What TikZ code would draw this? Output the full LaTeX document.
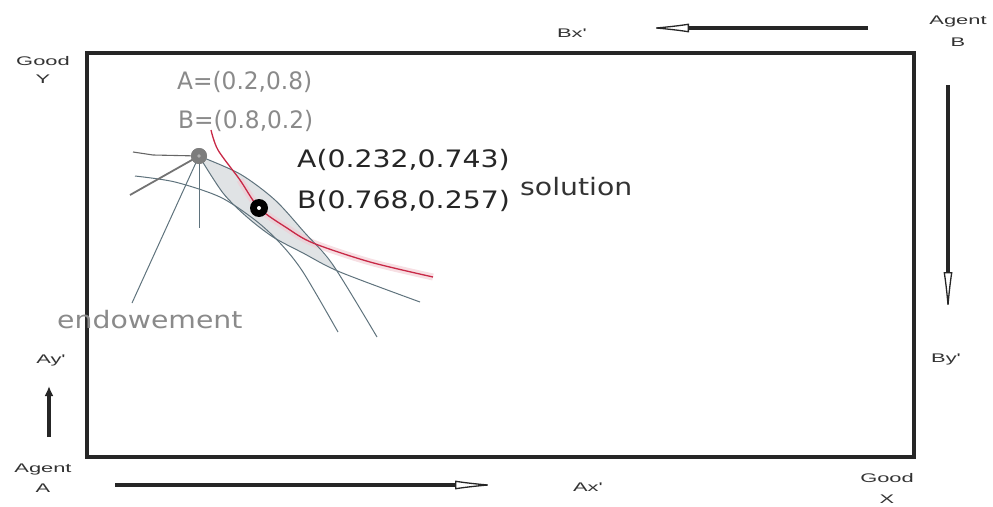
\documentclass[tikz,border=0pt]{standalone}
\usepackage{graphicx}
\usepackage{fontspec}
\setmainfont{DejaVu Sans}
\newfontfamily\lblfont{Liberation Sans}
\usetikzlibrary{arrows.meta}
\definecolor{ln}{RGB}{95,115,125}
\definecolor{redc}{RGB}{200,40,70}
\definecolor{lensc}{RGB}{224,227,229}
\definecolor{txtgray}{RGB}{138,138,138}
\definecolor{endc}{RGB}{125,125,125}
\newcommand\sxs[1]{\scalebox{1.75}[1]{#1}}
\newcommand\sxb[1]{\scalebox{1.18}[1]{#1}}
\newcommand\sxn[1]{\scalebox{0.97}[1]{#1}}
\tikzset{
  small/.style={font=\lblfont\fontsize{12.5}{14.5}\selectfont, text=black!80, inner sep=0pt, align=center},
  big/.style={font=\fontsize{24}{28}\selectfont, inner sep=0pt, anchor=west},
  boxline/.style={line width=4pt, draw=black!85},
  openarr/.style={draw=black!85, -{Latex[open,length=42pt,width=9pt,line width'=1.3pt]}, line width=3.5pt},
  curve/.style={draw=ln, line width=1pt},
}
\begin{document}
\begin{tikzpicture}[x=1pt,y=-1pt]
\useasboundingbox (0,0) rectangle (993,506);
% box
\draw[boxline] (87,53) rectangle (914,457);
% labels
\node[small] (goody) at (43,70) {\sxs{Good}\\[3pt]\sxs{Y}};
\node[small] (agentb) at (958,31) {\sxs{Agent}\\[8pt]\sxs{B}};
\node[small] (agenta) at (43,478) {\sxs{Agent}\\[5.5pt]\sxs{A}};
\node[small] (goodx) at (887,488) {\sxs{Good}\\[6.5pt]\sxs{X}};
\node[small] (bx) at (572,33) {\sxs{Bx'}};
\node[small] (ay) at (51,360) {\sxs{Ay'}};
\node[small] (by) at (946,359) {\sxs{By'}};
\node[small] (ax) at (588,487) {\sxs{Ax'}};
% arrows
\coordinate (t1) at (868,28); \coordinate (t2) at (647,28);
\draw[openarr] (t1) -- (t2);
\coordinate (r1) at (948,85); \coordinate (r2) at (948,314);
\draw[openarr] (r1) -- (r2);
\coordinate (b1) at (115,485); \coordinate (b2) at (497,485);
\draw[openarr] (b1) -- (b2);
\coordinate (u1) at (49,437); \coordinate (u2) at (49,386);
\draw[line width=4pt, draw=black!85, -{Latex[length=10pt,width=9pt]}] (u1) -- (u2);
% lens
\fill[lensc] plot[smooth] coordinates {(199,156) (240,174) (275,200) (305,233) (338,271)}
  -- plot[smooth] coordinates {(338,271) (303,253) (273,237) (247,217) (223,193) (199,156)} -- cycle;
% pink haze around red curve
\draw[redc!25, line width=7pt, opacity=0.6] plot[smooth] coordinates {(240,180) (259,208) (287,228) (313,243) (370,262) (433,277)};
% curves
\draw[curve] plot[smooth] coordinates {(199,156) (240,174) (275,200) (305,233) (333,265) (377,337)};
\draw[curve] plot[smooth] coordinates {(199,156) (223,193) (247,217) (273,237) (303,253) (340,272) (420,302)};
\draw[curve] plot[smooth] coordinates {(135,176) (175,182) (220,197) (255,220) (280,243) (303,272) (338,332)};
\draw[redc, line width=1.3pt] plot[smooth] coordinates {(211,130) (218,150) (240,180) (259,208) (287,228) (313,243) (370,262) (433,277)};
% endowment point and rays
\node[circle, fill=endc, minimum size=16pt, inner sep=0pt] (endw) at (199,156) {};
\coordinate (e1) at (153,155); \coordinate (e2) at (133,152);
\coordinate (e3) at (130,195); \coordinate (e4) at (132,303); \coordinate (e5) at (199,228);
\draw[draw=black!60, line width=1.1pt] (endw.center) -- (e1) -- (e2);
\draw[draw=black!55, line width=1.8pt] (endw.center) -- (e3);
\draw[curve] (endw.center) -- (e4);
\draw[curve] (endw.center) -- (e5);
\fill[endc] (endw.center) circle (8pt);
\fill[black!30] (endw.center) circle (1.8pt);
% solution point
\node[circle, fill=black, minimum size=18pt, inner sep=0pt] (sol) at (259,208) {};
\fill[white] (sol.center) circle (2pt);
% texts
\node[big, text=txtgray] (aend) at (177,82) {\sxn{A=(0.2,0.8)}};
\node[big, text=txtgray] (bend) at (178,121) {\sxn{B=(0.8,0.2)}};
\node[big, text=black!85] (asol) at (297,160) {\sxb{A(0.232,0.743)}};
\node[big, text=black!85] (bsol) at (297,201) {\sxb{B(0.768,0.257)}};
\node[big, text=black!80] (soltxt) at (520,187) {\sxb{solution}};
\node[big, text=txtgray] (endtxt) at (57,320) {\sxb{endowement}};
\end{tikzpicture}
\end{document}
